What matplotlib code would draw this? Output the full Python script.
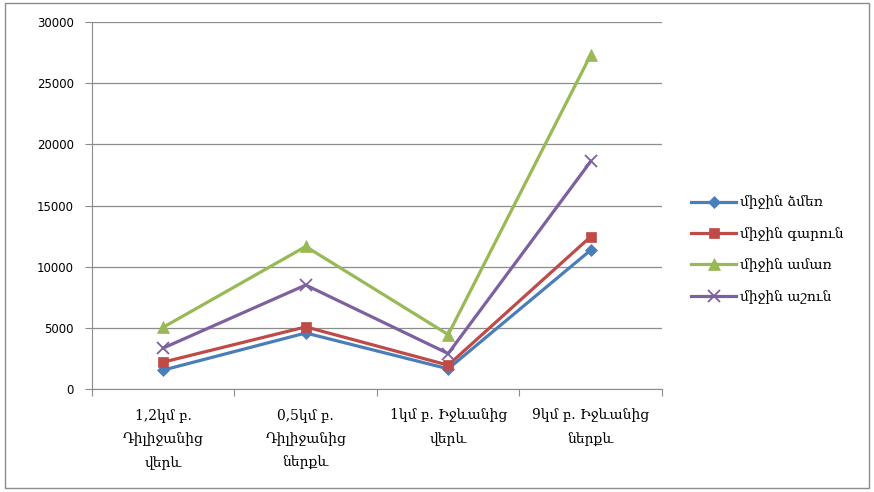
import matplotlib.pyplot as plt
from matplotlib.patches import Rectangle

# Seasonal averages at four river sampling points
stations = [
    "1,2կմ բ.\nԴիլիջանից\nվերև",
    "0,5կմ բ.\nԴիլիջանից\nներքև",
    "1կմ բ. Իջևանից\nվերև",
    "9կմ բ. Իջևանից\nներքև",
]
winter = [1550, 4580, 1650, 11350]
spring = [2200, 5080, 1950, 12450]
summer = [5050, 11650, 4450, 27300]
autumn = [3350, 8500, 2900, 18600]
season_names = ["միջին ձմեռ", "միջին գարուն", "միջին ամառ", "միջին աշուն"]
y_ticks = [0, 5000, 10000, 15000, 20000, 25000, 30000]

series = [
    (winter, "#4A7EBB", "D", 6),
    (spring, "#BE4B48", "s", 7.5),
    (summer, "#98B954", "^", 8.5),
    (autumn, "#7D60A0", "x", 8),
]

fig = plt.figure(figsize=(8.74, 4.92), dpi=100)
fig.patches.append(Rectangle((0.006, 0.008), 0.988, 0.985, transform=fig.transFigure,
                             fill=False, edgecolor="#8c8c8c", linewidth=1))
ax = fig.add_axes([0.1053, 0.2093, 0.652, 0.746])

x = [i + 0.5 for i in range(len(stations))]
for (vals, color, marker, ms), name in zip(series, season_names):
    ax.plot(x, vals, color=color, linewidth=2.3, marker=marker, markersize=ms,
            markeredgewidth=1.3 if marker == "x" else 0.5,
            markeredgecolor=color, markerfacecolor=color, label=name, zorder=3)

ax.set_xlim(0, len(stations))
ax.set_ylim(0, 30000)
ax.set_yticks(y_ticks)
ax.set_yticklabels([str(v) for v in y_ticks], fontsize=8.5, family="DejaVu Sans")
ax.grid(axis="y", color="#8c8c8c", linewidth=0.9)
ax.set_axisbelow(True)

ax.set_xticks(range(len(stations) + 1))
ax.set_xticklabels([])
ax.set_xticks(x, minor=True)
ax.set_xticklabels(stations, minor=True, fontsize=10, family="DejaVu Serif",
                   linespacing=1.9)
ax.tick_params(axis="x", which="minor", length=0, pad=14)
ax.tick_params(axis="x", which="major", length=5, color="#8c8c8c")
ax.tick_params(axis="y", length=5, color="#8c8c8c", pad=8)

for side in ("top", "right"):
    ax.spines[side].set_visible(False)
for side in ("left", "bottom"):
    ax.spines[side].set_color("#8c8c8c")

ax.legend(loc="center left", bbox_to_anchor=(1.03, 0.38), frameon=False,
          prop={"family": "DejaVu Serif", "size": 10}, handlelength=3.2,
          handletextpad=0.3, labelspacing=1.25)

fig.savefig("out.png", dpi=100)
